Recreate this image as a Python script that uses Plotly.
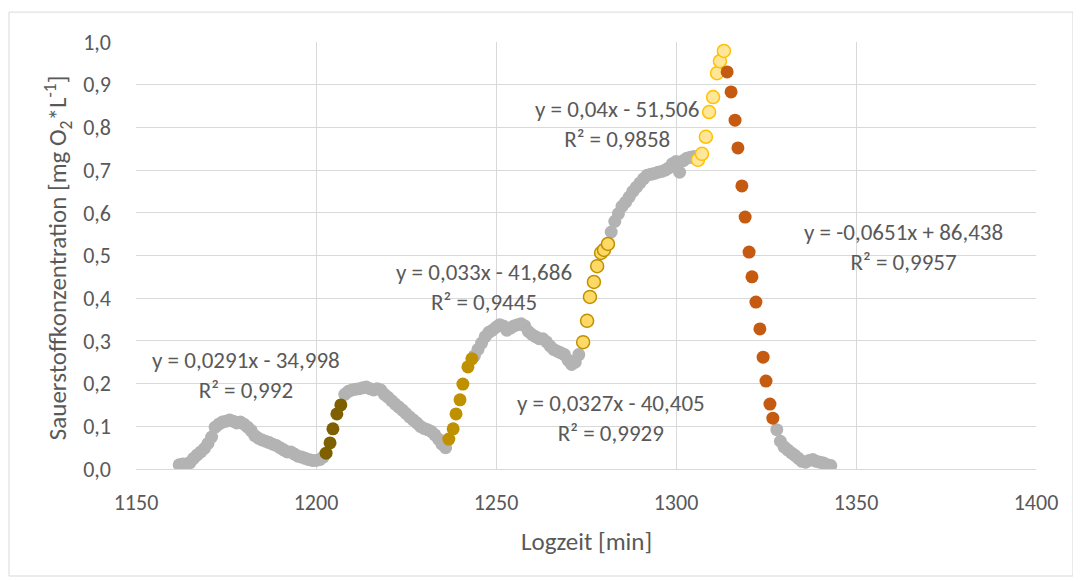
import plotly.graph_objects as go

# ---------------- data ----------------
grey_x = [1162, 1163, 1164, 1165, 1166, 1167, 1168, 1169, 1170, 1171, 1172, 1173, 1174, 1175, 1176,
          1177, 1178, 1179, 1180, 1181, 1182, 1183, 1184, 1185, 1186, 1187, 1188, 1189, 1190, 1191,
          1192, 1193, 1194, 1195, 1196, 1197, 1198, 1199, 1200, 1201, 1202,
          1208, 1209, 1210, 1211, 1212, 1213, 1214, 1215, 1216, 1217, 1218, 1219, 1220, 1221, 1222,
          1223, 1224, 1225, 1226, 1227, 1228, 1229, 1230, 1231, 1232, 1233, 1234, 1235, 1236,
          1244, 1245, 1246, 1247, 1248, 1249, 1250, 1251, 1252, 1253, 1254, 1255, 1256, 1257, 1258,
          1259, 1260, 1261, 1262, 1263, 1264, 1265, 1266, 1267, 1268, 1269, 1270, 1271, 1272, 1273,
          1282, 1283, 1284, 1285, 1286, 1287, 1288, 1289, 1290, 1291, 1292, 1293, 1294, 1295, 1296,
          1297, 1298, 1299, 1300, 1301, 1302, 1303, 1304, 1305,
          1328, 1329, 1330, 1331, 1332, 1333, 1334, 1335, 1336, 1337, 1338, 1339, 1340, 1341, 1342, 1343]
grey_y = [0.010, 0.012, 0.012, 0.015, 0.025, 0.033, 0.040, 0.048, 0.060, 0.075, 0.098, 0.105, 0.110, 0.112, 0.115,
          0.112, 0.108, 0.110, 0.105, 0.098, 0.090, 0.078, 0.072, 0.068, 0.065, 0.062, 0.058, 0.055, 0.050, 0.045,
          0.040, 0.040, 0.035, 0.030, 0.028, 0.025, 0.022, 0.020, 0.020, 0.022, 0.028,
          0.175, 0.182, 0.185, 0.187, 0.188, 0.190, 0.192, 0.188, 0.185, 0.188, 0.185, 0.175, 0.168, 0.160, 0.152,
          0.145, 0.138, 0.130, 0.122, 0.115, 0.108, 0.100, 0.095, 0.092, 0.088, 0.080, 0.070, 0.058, 0.050,
          0.265, 0.280, 0.295, 0.310, 0.320, 0.325, 0.332, 0.338, 0.335, 0.325, 0.330, 0.335, 0.338, 0.340, 0.335,
          0.322, 0.315, 0.310, 0.305, 0.305, 0.298, 0.288, 0.280, 0.276, 0.272, 0.268, 0.255, 0.245, 0.250, 0.268,
          0.555, 0.580, 0.598, 0.615, 0.625, 0.637, 0.650, 0.660, 0.670, 0.680, 0.688, 0.690, 0.692, 0.695, 0.697,
          0.700, 0.705, 0.715, 0.720, 0.695, 0.722, 0.728, 0.730, 0.732,
          0.092, 0.065, 0.052, 0.045, 0.038, 0.032, 0.025, 0.018, 0.016, 0.020, 0.022, 0.018, 0.016, 0.014, 0.010, 0.008]

olive_x = [1202.8, 1203.9, 1204.7, 1205.8, 1206.9]
olive_y = [0.037, 0.061, 0.094, 0.129, 0.150]

gold_x = [1236.9, 1238.1, 1238.9, 1240.0, 1240.8, 1242.2, 1243.3]
gold_y = [0.070, 0.094, 0.129, 0.162, 0.199, 0.239, 0.258]

yellow1_x = [1274.2, 1275.3, 1276.1, 1277.2, 1278.1, 1279.2, 1280.0, 1281.1]
yellow1_y = [0.297, 0.347, 0.403, 0.438, 0.475, 0.506, 0.513, 0.527]

yellow2_x = [1306.1, 1307.2, 1308.3, 1309.2, 1310.3, 1311.4, 1312.2, 1313.3]
yellow2_y = [0.724, 0.738, 0.778, 0.836, 0.871, 0.927, 0.955, 0.979]

orange_x = [1314.2, 1315.3, 1316.4, 1317.2, 1318.3, 1319.2, 1320.3, 1321.1, 1322.2, 1323.3,
            1324.2, 1325.0, 1326.1, 1326.9]
orange_y = [0.930, 0.883, 0.817, 0.752, 0.663, 0.590, 0.508, 0.450, 0.391, 0.328,
            0.262, 0.206, 0.152, 0.119]

trend_labels = ["y = 0,0291x - 34,998<br>R² = 0,992",
                "y = 0,033x - 41,686<br>R² = 0,9445",
                "y = 0,0327x - 40,405<br>R² = 0,9929",
                "y = 0,04x - 51,506<br>R² = 0,9858",
                "y = -0,0651x + 86,438<br>R² = 0,9957"]
trend_label_x = [1180.6, 1246.7, 1281.9, 1283.7, 1363.3]
trend_label_y = [0.220, 0.427, 0.120, 0.808, 0.520]

x_ticks = [1150, 1200, 1250, 1300, 1350, 1400]
x_tick_text = ["1150", "1200", "1250", "1300", "1350", "1400"]
y_ticks = [0.0, 0.1, 0.2, 0.3, 0.4, 0.5, 0.6, 0.7, 0.8, 0.9, 1.0]
y_tick_text = ["0,0", "0,1", "0,2", "0,3", "0,4", "0,5", "0,6", "0,7", "0,8", "0,9", "1,0"]

x_title = "Logzeit [min]"
y_title = "Sauerstoffkonzentration [mg O<sub>2</sub>*L<sup>-1</sup>]"

FONT = "Carlito, Lato, sans-serif"
TXT = "#595959"
SZ = 13

fig = go.Figure()
fig.add_trace(go.Scatter(x=grey_x, y=grey_y, mode="markers",
                         marker=dict(size=SZ, color="#b3b3b3", line=dict(width=0))))
fig.add_trace(go.Scatter(x=olive_x, y=olive_y, mode="markers",
                         marker=dict(size=SZ, color="#7f6000", line=dict(width=0))))
fig.add_trace(go.Scatter(x=gold_x, y=gold_y, mode="markers",
                         marker=dict(size=SZ, color="#bf9000", line=dict(width=0))))
fig.add_trace(go.Scatter(x=yellow1_x, y=yellow1_y, mode="markers",
                         marker=dict(size=SZ, color="#ffd966", line=dict(width=1.5, color="#bf9000"))))
fig.add_trace(go.Scatter(x=yellow2_x, y=yellow2_y, mode="markers",
                         marker=dict(size=SZ, color="#ffe699", line=dict(width=1.5, color="#ffc000"))))
fig.add_trace(go.Scatter(x=orange_x, y=orange_y, mode="markers",
                         marker=dict(size=SZ, color="#c55a11", line=dict(width=0))))

for t, tx, ty in zip(trend_labels, trend_label_x, trend_label_y):
    fig.add_annotation(x=tx, y=ty, text=t, showarrow=False, align="center",
                       font=dict(family=FONT, size=23, color=TXT))

# axis titles placed as paper annotations
fig.add_annotation(xref="paper", yref="paper", x=0.5, y=-0.169, text=x_title, showarrow=False,
                   xanchor="center", yanchor="middle", font=dict(family=FONT, size=25, color=TXT))
fig.add_annotation(xref="paper", yref="paper", x=-0.0867, y=0.496, text=y_title, showarrow=False,
                   textangle=-90, xanchor="center", yanchor="middle",
                   font=dict(family=FONT, size=25, color=TXT))

# page body has an 8px margin: shift the figure so the plot area lands where the reference has it
fig.update_layout(
    width=1073, height=573,
    margin=dict(l=128, r=45, t=34, b=112),
    paper_bgcolor="white", plot_bgcolor="white",
    showlegend=False,
    font=dict(family=FONT, color=TXT),
    xaxis=dict(range=[1150, 1400], tickvals=x_ticks, ticktext=x_tick_text,
               showgrid=True, gridcolor="#d9d9d9", gridwidth=1, zeroline=False,
               showline=True, linecolor="#d9d9d9", linewidth=1,
               tickfont=dict(family=FONT, size=22, color=TXT), ticks="", ticklabelstandoff=14),
    yaxis=dict(range=[0, 1.0], tickvals=y_ticks, ticktext=y_tick_text,
               showgrid=True, gridcolor="#d9d9d9", gridwidth=1, zeroline=False,
               tickfont=dict(family=FONT, size=22, color=TXT), ticks="", ticklabelstandoff=24),
    shapes=[dict(type="rect", xref="paper", yref="paper", x0=-0.1411, x1=1.0411, y0=-0.2506, y1=1.070,
                 line=dict(color="#d9d9d9", width=1), layer="below")],
)

fig.write_html("out.html")
